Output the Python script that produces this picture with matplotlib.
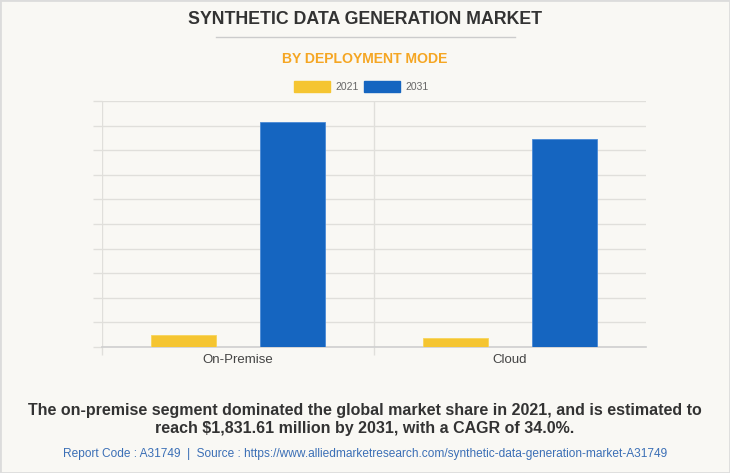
import matplotlib.pyplot as plt
from matplotlib.lines import Line2D
from matplotlib.patches import Rectangle
import numpy as np

# data
categories = ['On-Premise', 'Cloud']
years = ['2021', '2031']
values_2021 = [98.0, 72.0]
values_2031 = [1831.61, 1692.0]

bg = '#f9f8f4'
yellow = '#f5c531'
blue = '#1565c0'
grid_col = '#e0dfdb'
sans = ['Liberation Sans', 'DejaVu Sans']

fig = plt.figure(figsize=(7.3, 4.73), dpi=100, facecolor=bg)
W, H = 730, 473

# border
fig.patches.append(Rectangle((0, 0), 1, 1, transform=fig.transFigure,
                             fill=False, edgecolor='#dcdcdc', lw=2))

ax = fig.add_axes([102 / W, 1 - 347 / H, 544 / W, 246 / H])
ax.set_facecolor(bg)

x = np.arange(len(categories))
width = 0.24
ax.bar(x - 0.2, values_2021, width, color=yellow, edgecolor='#f8d55a',
       lw=0.6, zorder=3)
ax.bar(x + 0.2, values_2031, width, color=blue, edgecolor='#4a8ad6',
       lw=0.6, zorder=3)

ax.set_xlim(-0.5, 1.5)
ax.set_ylim(0, 2000)
ax.set_yticks(np.arange(0, 2001, 200))
ax.set_yticklabels([])
ax.tick_params(axis='y', length=6.5, color=grid_col, width=1)
ax.grid(axis='y', color=grid_col, lw=1, zorder=0)

ax.set_xticks(x)
ax.set_xticklabels(categories, fontsize=9.5, color='#444444', family=sans)
ax.tick_params(axis='x', which='major', length=0, pad=5)
ax.set_xticks([-0.5, 0.5], minor=True)
ax.tick_params(axis='x', which='minor', length=6, color=grid_col, width=1)
ax.grid(axis='x', which='minor', color=grid_col, lw=1, zorder=0)

for s in ['top', 'right', 'left']:
    ax.spines[s].set_visible(False)
ax.spines['bottom'].set_color('#cfcfcf')
ax.spines['bottom'].set_linewidth(1.2)

# titles
fig.text(0.5, 1 - 20 / H, 'SYNTHETIC DATA GENERATION MARKET', ha='center',
         va='center', fontsize=12.8, fontweight='bold', color='#333333',
         family=sans)
fig.add_artist(Line2D([216 / W, 515 / W], [1 - 37 / H, 1 - 37 / H],
                      color='#cccccc', lw=1))
fig.text(0.5, 1 - 59 / H, 'BY DEPLOYMENT MODE', ha='center', va='center',
         fontsize=10.1, fontweight='bold', color='#f5a623', family=sans)

# legend
leg_y = 1 - 87 / H
for x0, col, lab in [(294, yellow, years[0]), (364, blue, years[1])]:
    fig.patches.append(Rectangle((x0 / W, leg_y - 5 / H), 36 / W, 11 / H,
                                 transform=fig.transFigure, color=col))
    fig.text((x0 + 41) / W, leg_y, lab, ha='left', va='center', fontsize=7.5,
             color='#666666', family=sans)

# footer
fig.text(0.5, 1 - 410 / H,
         'The on-premise segment dominated the global market share in 2021, and is estimated to',
         ha='center', va='center', fontsize=11.5, fontweight='bold',
         color='#333333', family=sans)
fig.text(0.5, 1 - 429 / H,
         'reach $1,831.61 million by 2031, with a CAGR of 34.0%.',
         ha='center', va='center', fontsize=11.5, fontweight='bold',
         color='#333333', family=sans)
fig.text(0.5, 1 - 454 / H,
         'Report Code : A31749  |  Source : https://www.alliedmarketresearch.com/synthetic-data-generation-market-A31749',
         ha='center', va='center', fontsize=8.6, color='#3b6fb6', family=sans)

fig.savefig('out.png', dpi=100, facecolor=bg)
